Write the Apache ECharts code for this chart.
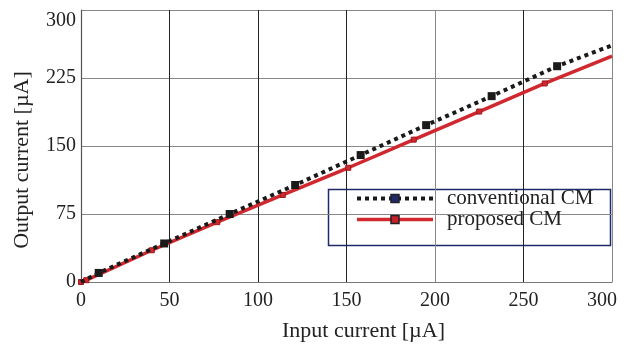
<!DOCTYPE html>
<html>
<head>
<meta charset="utf-8">
<script src="https://cdn.jsdelivr.net/npm/echarts@6/dist/echarts.min.js"></script>
<style>html,body{margin:0;padding:0;background:#fff}#c{width:637px;height:349px}</style>
</head>
<body>
<div id="c"></div>
<script>
var xTicks = [0, 50, 100, 150, 200, 250, 300];
var yTicks = [0, 75, 150, 225, 300];
var convX = [0, 10, 47, 84, 121, 158, 195, 232, 269, 300];
var convY = [0, 10, 42.5, 75, 107, 140, 173, 205, 238, 261];
var propX = [0, 3, 40, 77, 114, 151, 188, 225, 262, 300];
var propY = [0, 2, 35, 66, 96, 126, 157, 188, 219, 249];
var seriesNames = ['conventional CM', 'proposed CM'];

function pts(xs, ys, noMarkFirst) {
  return xs.map(function (x, i) {
    var item = { value: [x, ys[i]] };
    if (i === xs.length - 1 || (noMarkFirst && i === 0)) item.symbol = 'none';
    return item;
  });
}

var FONT = '"Liberation Serif", "DejaVu Serif", serif';
var chart = echarts.init(document.getElementById('c'), null, { renderer: 'canvas' });
chart.setOption({
  animation: false,
  backgroundColor: '#fff',
  textStyle: { fontFamily: FONT, color: '#222' },
  grid: { left: 81, right: 25, top: 10, bottom: 67, containLabel: false },
  xAxis: {
    type: 'value', min: xTicks[0], max: xTicks[xTicks.length - 1], interval: 50,
    name: 'Input current [\u00b5A]', nameLocation: 'middle', nameGap: 38,
    nameTextStyle: { fontFamily: FONT, fontSize: 22, color: '#222', padding: [0, 0, 0, 34] },
    axisLine: { show: true, lineStyle: { color: '#777', width: 1.2 } },
    axisTick: { show: false },
    axisLabel: {
      fontFamily: FONT, fontSize: 20, color: '#222', margin: 9,
      formatter: function (v) { return v === 300 ? '{r|300}' : String(v); },
      rich: { r: { fontFamily: FONT, fontSize: 20, color: '#222', padding: [0, 20, 0, 0] } }
    },
    splitLine: { show: true, lineStyle: { color: ['#555', '#222', '#222', '#222', '#888', '#222', '#888'], width: 1 } }
  },
  yAxis: {
    type: 'value', min: yTicks[0], max: yTicks[yTicks.length - 1], interval: 75,
    name: 'Output current [\u00b5A]', nameLocation: 'middle', nameGap: 48,
    nameTextStyle: { fontFamily: FONT, fontSize: 22, color: '#222', padding: [0, 28, 0, 0] },
    axisLine: { show: true, lineStyle: { color: '#555', width: 1.2 } },
    axisTick: { show: false },
    axisLabel: {
      fontFamily: FONT, fontSize: 20, color: '#222', margin: 5,
      formatter: function (v) { return v === 300 ? '{t|300}' : String(v); },
      rich: { t: { fontFamily: FONT, fontSize: 20, color: '#222', padding: [22, 0, 0, 0] } }
    },
    splitLine: { show: true, lineStyle: { color: '#888', width: 1.2 } }
  },
  legend: {
    orient: 'vertical', left: 350, top: 183, itemWidth: 76, itemHeight: 10, itemGap: 0,
    textStyle: { fontFamily: FONT, fontSize: 21, color: '#222', padding: [0, 0, 0, 9] },
    data: [
      { name: seriesNames[0], itemStyle: { color: '#1f2a6b', borderColor: '#222', borderWidth: 1.5 },
        lineStyle: { color: '#1a1a1a', width: 4, type: [4, 4] } },
      { name: seriesNames[1], itemStyle: { color: '#c8202a', borderColor: '#222', borderWidth: 1.5 },
        lineStyle: { color: '#d0282e', width: 3.5 } }
    ]
  },
  graphic: [{
    type: 'rect', left: 326, top: 187, silent: true,
    shape: { width: 282, height: 56 },
    style: { fill: 'none', stroke: '#1f2a6b', lineWidth: 1.5 }
  }],
  series: [
    {
      name: seriesNames[1], type: 'line', data: pts(propX, propY, false), z: 2,
      symbol: 'rect', symbolSize: 5, showAllSymbol: true,
      lineStyle: { color: '#d0282e', width: 3.5 },
      itemStyle: { color: '#d0282e', borderColor: '#9a1a1e', borderWidth: 1 }
    },
    {
      name: seriesNames[0], type: 'line', data: pts(convX, convY, true), z: 3,
      symbol: 'rect', symbolSize: 8, showAllSymbol: true,
      lineStyle: { color: '#1a1a1a', width: 4, type: [4, 4], cap: 'butt' },
      itemStyle: { color: '#1a1a1a', borderWidth: 0 }
    }
  ]
});
</script>
</body>
</html>
